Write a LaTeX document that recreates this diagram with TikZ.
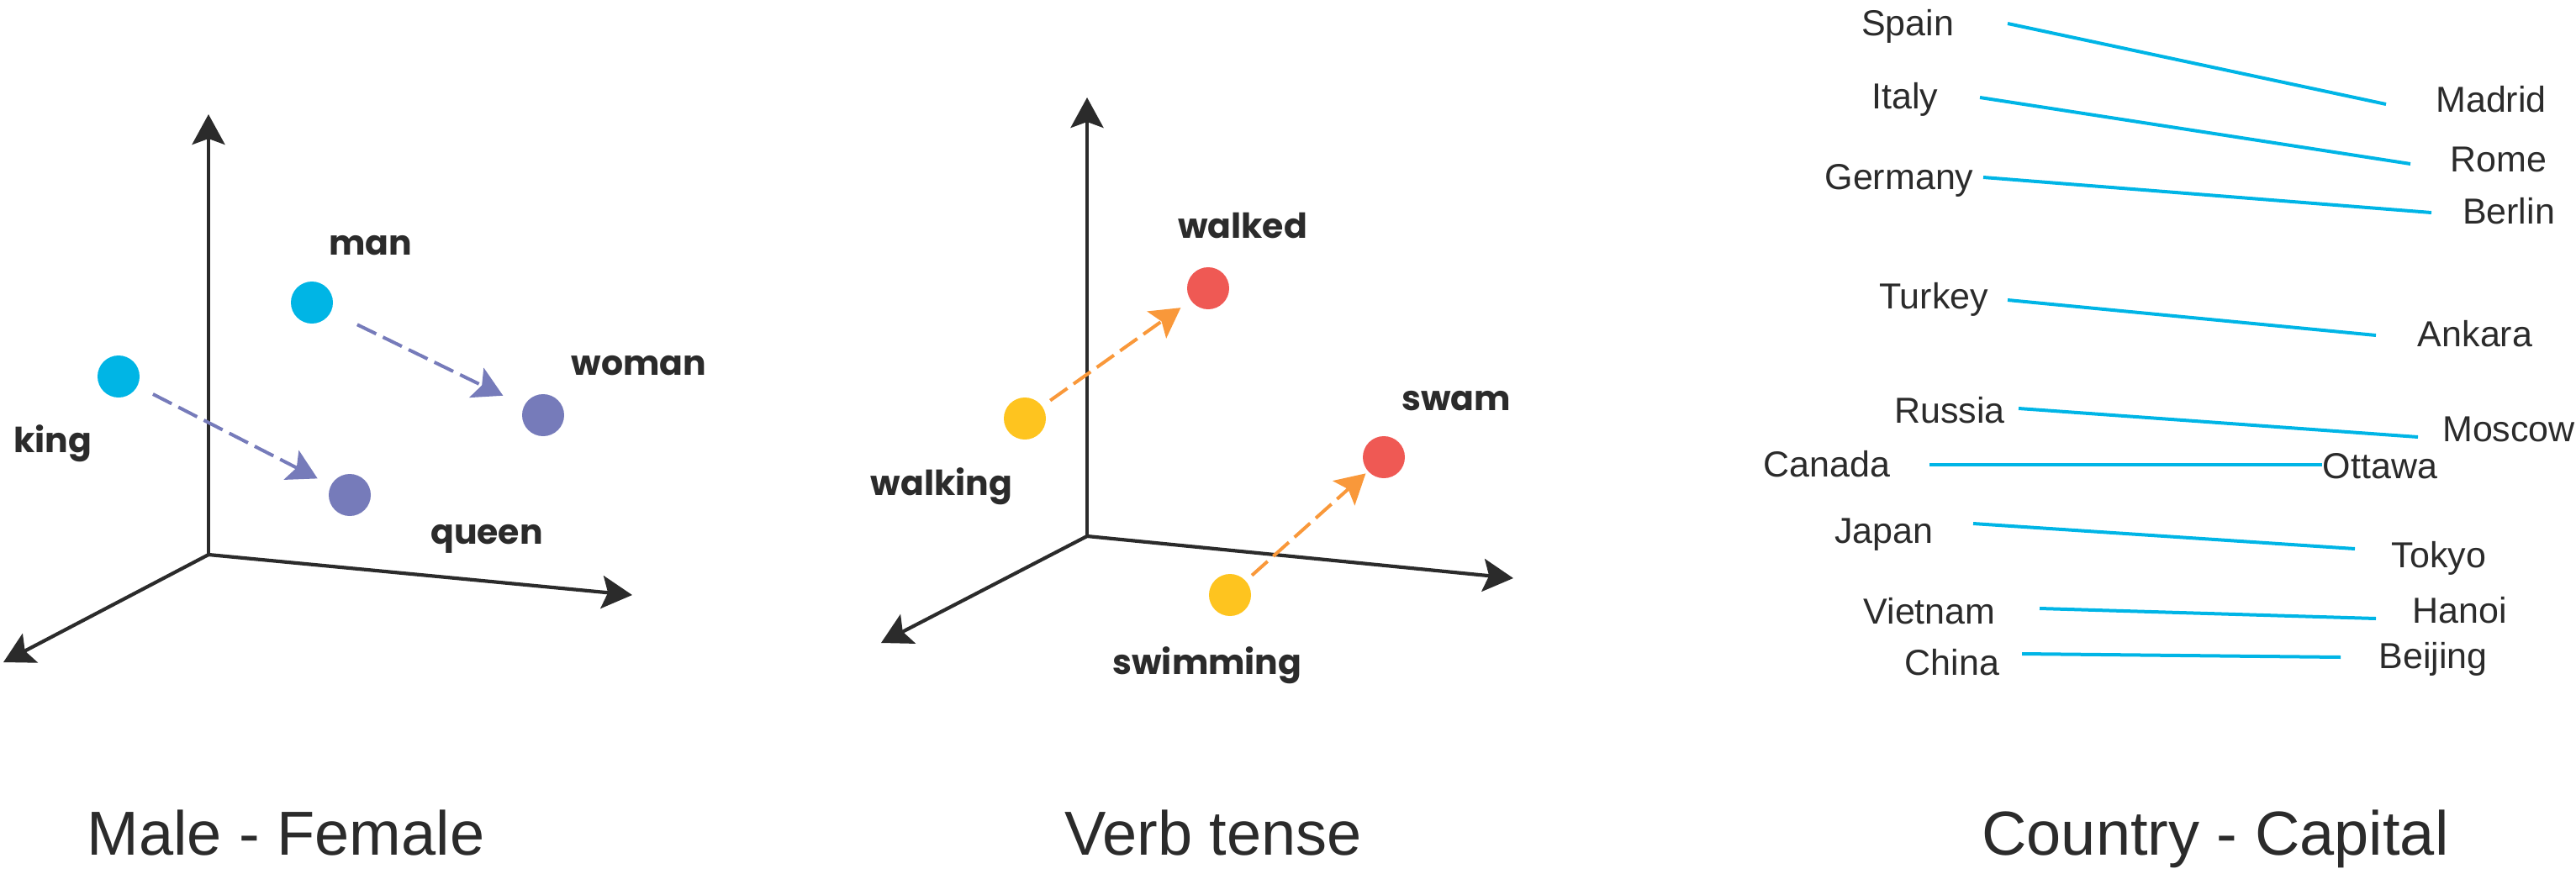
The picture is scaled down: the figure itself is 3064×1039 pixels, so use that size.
\documentclass[tikz,border=0pt]{standalone}
\usepackage{fontspec}
\setmainfont{Liberation Sans}
\newfontfamily\lblfont{Poppins}
\usetikzlibrary{arrows.meta}
\definecolor{ink}{HTML}{2B2B2B}
\definecolor{cyandot}{HTML}{00B5E5}
\definecolor{purpledot}{HTML}{767BBA}
\definecolor{yellowdot}{HTML}{FEC41F}
\definecolor{reddot}{HTML}{EF5954}
\definecolor{orangevec}{HTML}{F9983A}
\definecolor{linkblue}{HTML}{00B5E6}
\begin{document}
\begin{tikzpicture}[x=1pt,y=-1pt,
  axis/.style={draw=ink, line width=4.2pt, -{Stealth[length=36pt,width=39pt,inset=7pt]}},
  dot/.style={circle, minimum size=50pt, inner sep=0pt, outer sep=0pt},
  word/.style={font=\lblfont\bfseries\fontsize{41}{48}\selectfont, text=ink, anchor=base, inner sep=0pt},
  place/.style={font=\fontsize{43}{50}\selectfont, text=ink, anchor=base, inner sep=0pt},
  title/.style={font=\fontsize{74}{88}\selectfont, text=ink, anchor=base, inner sep=0pt},
  vec/.style={line width=4pt, dash pattern=on 25pt off 9pt, -{Stealth[length=35pt,width=39pt,inset=7pt]}},
  link/.style={draw=linkblue, line width=4pt},
]
\useasboundingbox (0,0) rectangle (3064,1039);

% ---------- Panel 1: Male - Female ----------
\coordinate (o1) at (248,660);
\coordinate (u1) at (248,136);
\coordinate (r1) at (752,708);
\coordinate (l1) at (4,788);
\draw[axis] (o1) -- (u1);
\draw[axis] (o1) -- (r1);
\draw[axis] (o1) -- (l1);

\node[dot, fill=cyandot] (king) at (141,448) {};
\node[dot, fill=cyandot] (man) at (371,360) {};
\node[dot, fill=purpledot] (queen) at (416,589) {};
\node[dot, fill=purpledot] (woman) at (646,494) {};

\node[word] (manL) at (441,303) {man};
\node[word] (womanL) at (760,446) {woman};
\node[word] (kingL) at (63,538) {king};
\node[word] (queenL) at (579,647) {queen};

\draw[vec, draw=purpledot, shorten <=35pt, shorten >=28pt] (man) -- (woman);
\draw[vec, draw=purpledot, shorten <=21pt, shorten >=18pt] (king) -- (queen);

\node[title] (t1) at (340,1017) {Male - Female};

% ---------- Panel 2: Verb tense ----------
\coordinate (o2) at (1293,638);
\coordinate (u2) at (1293,116);
\coordinate (r2) at (1800,688);
\coordinate (l2) at (1048,765);
\draw[axis] (o2) -- (u2);
\draw[axis] (o2) -- (r2);
\draw[axis] (o2) -- (l2);

\node[dot, fill=yellowdot] (walking) at (1219,498) {};
\node[dot, fill=reddot] (walked) at (1437,343) {};
\node[dot, fill=yellowdot] (swimming) at (1463,708) {};
\node[dot, fill=reddot] (swam) at (1646,544) {};

\node[word] (walkedL) at (1478,283) {walked};
\node[word] (walkingL) at (1120,589) {walking};
\node[word] (swamL) at (1732,488) {swam};
\node[word] (swimmingL) at (1436,802) {swimming};

\draw[vec, draw=orangevec, shorten <=12pt, shorten >=15pt] (walking) -- (walked);
\draw[vec, draw=orangevec, shorten <=10pt, shorten >=4pt] (swimming) -- (swam);

\node[title] (t2) at (1443,1017) {Verb tense};

% ---------- Panel 3: Country - Capital ----------
\node[place] (spain) at (2269,42) {Spain};
\node[place] (italy) at (2266,129) {Italy};
\node[place] (germany) at (2259,225) {Germany};
\node[place] (turkey) at (2300,367) {Turkey};
\node[place] (russia) at (2319,503) {Russia};
\node[place] (canada) at (2173,567) {Canada};
\node[place] (japan) at (2241,646) {Japan};
\node[place] (vietnam) at (2295,742) {Vietnam};
\node[place] (china) at (2322,803) {China};

\node[place] (madrid) at (2963,133) {Madrid};
\node[place] (rome) at (2972,204) {Rome};
\node[place] (berlin) at (2984,266) {Berlin};
\node[place] (ankara) at (2944,412) {Ankara};
\node[place] (moscow) at (2984,525) {Moscow};
\node[place] (ottawa) at (2831,569) {Ottawa};
\node[place] (tokyo) at (2901,675) {Tokyo};
\node[place] (hanoi) at (2926,741) {Hanoi};
\node[place] (beijing) at (2894,795) {Beijing};

\coordinate (spainE) at (2388,28);    \coordinate (madridW) at (2838,124);
\coordinate (italyE) at (2355,116);   \coordinate (romeW) at (2867,195);
\coordinate (germanyE) at (2359,211); \coordinate (berlinW) at (2892,253);
\coordinate (turkeyE) at (2388,357);  \coordinate (ankaraW) at (2826,399);
\coordinate (russiaE) at (2401,486);  \coordinate (moscowW) at (2876,520);
\coordinate (canadaE) at (2295,553);  \coordinate (ottawaW) at (2762,553);
\coordinate (japanE) at (2347,623);   \coordinate (tokyoW) at (2801,653);
\coordinate (vietnamE) at (2426,724); \coordinate (hanoiW) at (2826,736);
\coordinate (chinaE) at (2405,778);   \coordinate (beijingW) at (2784,782);

\draw[link] (spainE) -- (madridW);
\draw[link] (italyE) -- (romeW);
\draw[link] (germanyE) -- (berlinW);
\draw[link] (turkeyE) -- (ankaraW);
\draw[link] (russiaE) -- (moscowW);
\draw[link] (canadaE) -- (ottawaW);
\draw[link] (japanE) -- (tokyoW);
\draw[link] (vietnamE) -- (hanoiW);
\draw[link] (chinaE) -- (beijingW);

\node[title] (t3) at (2635,1017) {Country - Capital};
\end{tikzpicture}
\end{document}
